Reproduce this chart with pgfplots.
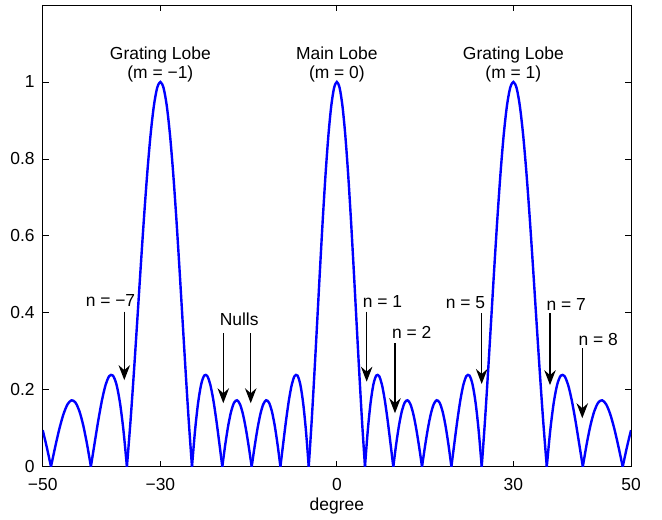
\documentclass[border=0pt]{standalone}
\usepackage{pgfplots}
\pgfplotsset{compat=1.18}
\usepackage{fontspec}
\setmainfont{Liberation Sans}
\usetikzlibrary{arrows.meta}
\begin{document}
\fontsize{17.5}{20}\selectfont
\begin{tikzpicture}
\begin{axis}[
  scale only axis, width=588.3bp, height=461.7bp,
  xmin=-50, xmax=50, ymin=0, ymax=1.2,
  xtick={-50,-30,0,30,50}, xticklabels={−50,−30,0,30,50},
  ytick={0,0.2,0.4,0.6,0.8,1}, yticklabels={0,0.2,0.4,0.6,0.8,1},
  tick align=inside, major tick length=6bp,
  axis line style={line width=0.8bp, black},
  every tick/.style={black, line width=0.8bp},
  ticklabel style={font=\fontsize{17.5}{20}\selectfont},
  xticklabel style={anchor=base, yshift=-23.8bp},
  yticklabel style={xshift=-2bp},
  xlabel={degree},
  xlabel style={at={(axis description cs:0.5,0)}, anchor=base, yshift=-43.3bp},
  label style={font=\fontsize{17.5}{20}\selectfont},
  lobe/.style={blue, solid, line width=2.4bp, smooth, mark=none},
]
% main lobe
\addplot[lobe] coordinates {(-4.7802,0) (-4.3012,0.1134) (-3.8226,0.2409) (-3.3442,0.3762) (-2.8660,0.5130) (-2.3880,0.6440) (-1.9102,0.7624) (-1.4325,0.8619) (-0.9550,0.9372) (-0.4775,0.9841) (0,1) (0.4775,0.9841) (0.9550,0.9372) (1.4325,0.8619) (1.9102,0.7624) (2.3880,0.6440) (2.8660,0.5130) (3.3442,0.3762) (3.8226,0.2409) (4.3012,0.1134) (4.7802,0)};
% positive side
\addplot[lobe] coordinates {(4.7802,0) (5.2595,0.0946) (5.7392,0.1667) (6.2192,0.2143) (6.6998,0.2369) (7.1808,0.2357) (7.6623,0.2133) (8.1443,0.1735) (8.6269,0.1211) (9.1102,0.0614) (9.5941,0)};
\addplot[lobe] coordinates {(9.5941,0) (10.0787,0.0578) (10.5639,0.1072) (11.0501,0.1444) (11.5370,0.1667) (12.0247,0.1726) (12.5133,0.1621) (13.0029,0.1365) (13.4934,0.0985) (13.9849,0.0516) (14.4775,0)};
\addplot[lobe] coordinates {(14.4775,0) (14.9712,0.0516) (15.4661,0.0985) (15.9620,0.1365) (16.4592,0.1621) (16.9578,0.1726) (17.4576,0.1667) (17.9588,0.1444) (18.4615,0.1072) (18.9656,0.0578) (19.4712,0)};
\addplot[lobe] coordinates {(19.4712,0) (19.9785,0.0614) (20.4873,0.1211) (20.9979,0.1735) (21.5102,0.2133) (22.0243,0.2357) (22.5403,0.2369) (23.0583,0.2143) (23.5782,0.1667) (24.1001,0.0946) (24.6243,0)};
\addplot[lobe] coordinates {(24.6243,0) (25.1507,0.1134) (25.6793,0.2409) (26.2103,0.3762) (26.7437,0.5130) (27.2796,0.6440) (27.8181,0.7624) (28.3593,0.8619) (28.9033,0.9372) (29.4502,0.9841) (30,1) (30.5529,0.9841) (31.1090,0.9372) (31.6682,0.8619) (32.2309,0.7624) (32.7972,0.6440) (33.3670,0.5130) (33.9406,0.3762) (34.5181,0.2409) (35.0997,0.1134) (35.6853,0)};
\addplot[lobe] coordinates {(35.6853,0) (36.2754,0.0946) (36.8699,0.1667) (37.4691,0.2143) (38.0732,0.2369) (38.6822,0.2357) (39.2965,0.2133) (39.9162,0.1735) (40.5416,0.1211) (41.1729,0.0614) (41.8103,0)};
\addplot[lobe] coordinates {(41.8103,0) (42.4542,0.0578) (43.1047,0.1072) (43.7622,0.1444) (44.4270,0.1667) (45.0994,0.1726) (45.7800,0.1621) (46.4689,0.1365) (47.1665,0.0985) (47.8736,0.0516) (48.5904,0)};
\addplot[lobe] coordinates {(48.5904,0) (49.3175,0.0516) (50,0.0950)};
% negative side
\addplot[lobe] coordinates {(-4.7802,0) (-5.2595,0.0946) (-5.7392,0.1667) (-6.2192,0.2143) (-6.6998,0.2369) (-7.1808,0.2357) (-7.6623,0.2133) (-8.1443,0.1735) (-8.6269,0.1211) (-9.1102,0.0614) (-9.5941,0)};
\addplot[lobe] coordinates {(-9.5941,0) (-10.0787,0.0578) (-10.5639,0.1072) (-11.0501,0.1444) (-11.5370,0.1667) (-12.0247,0.1726) (-12.5133,0.1621) (-13.0029,0.1365) (-13.4934,0.0985) (-13.9849,0.0516) (-14.4775,0)};
\addplot[lobe] coordinates {(-14.4775,0) (-14.9712,0.0516) (-15.4661,0.0985) (-15.9620,0.1365) (-16.4592,0.1621) (-16.9578,0.1726) (-17.4576,0.1667) (-17.9588,0.1444) (-18.4615,0.1072) (-18.9656,0.0578) (-19.4712,0)};
\addplot[lobe] coordinates {(-19.4712,0) (-19.9785,0.0614) (-20.4873,0.1211) (-20.9979,0.1735) (-21.5102,0.2133) (-22.0243,0.2357) (-22.5403,0.2369) (-23.0583,0.2143) (-23.5782,0.1667) (-24.1001,0.0946) (-24.6243,0)};
\addplot[lobe] coordinates {(-24.6243,0) (-25.1507,0.1134) (-25.6793,0.2409) (-26.2103,0.3762) (-26.7437,0.5130) (-27.2796,0.6440) (-27.8181,0.7624) (-28.3593,0.8619) (-28.9033,0.9372) (-29.4502,0.9841) (-30,1) (-30.5529,0.9841) (-31.1090,0.9372) (-31.6682,0.8619) (-32.2309,0.7624) (-32.7972,0.6440) (-33.3670,0.5130) (-33.9406,0.3762) (-34.5181,0.2409) (-35.0997,0.1134) (-35.6853,0)};
\addplot[lobe] coordinates {(-35.6853,0) (-36.2754,0.0946) (-36.8699,0.1667) (-37.4691,0.2143) (-38.0732,0.2369) (-38.6822,0.2357) (-39.2965,0.2133) (-39.9162,0.1735) (-40.5416,0.1211) (-41.1729,0.0614) (-41.8103,0)};
\addplot[lobe] coordinates {(-41.8103,0) (-42.4542,0.0578) (-43.1047,0.1072) (-43.7622,0.1444) (-44.4270,0.1667) (-45.0994,0.1726) (-45.7800,0.1621) (-46.4689,0.1365) (-47.1665,0.0985) (-47.8736,0.0516) (-48.5904,0)};
\addplot[lobe] coordinates {(-48.5904,0) (-49.3175,0.0516) (-50,0.0950)};
% annotations
\node[anchor=base] at (axis cs:-30,1.059) {Grating Lobe};
\node[anchor=base] at (axis cs:-30,1.009) {(m = −1)};
\node[anchor=base] at (axis cs:0,1.059) {Main Lobe};
\node[anchor=base] at (axis cs:0,1.009) {(m = 0)};
\node[anchor=base] at (axis cs:30,1.059) {Grating Lobe};
\node[anchor=base] at (axis cs:30,1.009) {(m = 1)};
\tikzset{arr/.style={-{Stealth[length=15bp,width=11.5bp,inset=5bp]}, line width=1.3bp, black}}
\node[anchor=base] at (axis cs:-38.48,0.416) {n = −7};
\draw[arr] (axis cs:-36.13,0.403) -- (axis cs:-36.13,0.225);
\node[anchor=base] at (axis cs:-16.60,0.368) {Nulls};
\draw[arr] (axis cs:-19.30,0.347) -- (axis cs:-19.30,0.165);
\draw[arr] (axis cs:-14.64,0.347) -- (axis cs:-14.64,0.165);
\node[anchor=base] at (axis cs:7.76,0.414) {n = 1};
\draw[arr] (axis cs:5.07,0.403) -- (axis cs:5.07,0.221);
\node[anchor=base] at (axis cs:12.72,0.334) {n = 2};
\draw[arr] (axis cs:9.88,0.321) -- (axis cs:9.88,0.139);
\node[anchor=base] at (axis cs:21.87,0.412) {n = 5};
\draw[arr] (axis cs:24.62,0.399) -- (axis cs:24.62,0.215);
\node[anchor=base] at (axis cs:39.0,0.407) {n = 7};
\draw[arr] (axis cs:36.23,0.399) -- (axis cs:36.23,0.212);
\node[anchor=base] at (axis cs:44.44,0.315) {n = 8};
\draw[arr] (axis cs:41.72,0.308) -- (axis cs:41.72,0.126);
\end{axis}
\path (current axis.south west) ++(-42.7bp,-52.3bp) coordinate (bbA);
\path (current axis.north east) ++(31bp,5bp) coordinate (bbB);
\path (bbA) rectangle (bbB);
\end{tikzpicture}
\end{document}
